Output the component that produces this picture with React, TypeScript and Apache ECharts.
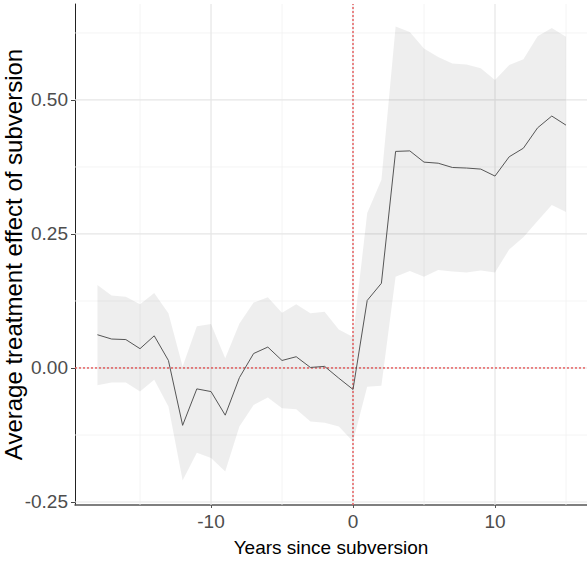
import React, { useEffect, useRef } from 'react';
import * as echarts from 'echarts';

// years since subversion
const years = [
  -18, -17, -16, -15, -14, -13, -12, -11, -10, -9, -8, -7, -6, -5, -4, -3, -2,
  -1, 0, 1, 2, 3, 4, 5, 6, 7, 8, 9, 10, 11, 12, 13, 14, 15,
];
const effect = [
  0.062, 0.054, 0.053, 0.036, 0.06, 0.014, -0.107, -0.039, -0.044, -0.088,
  -0.018, 0.027, 0.039, 0.014, 0.021, 0.001, 0.003, -0.019, -0.04, 0.126,
  0.158, 0.404, 0.405, 0.384, 0.382, 0.374, 0.373, 0.371, 0.358, 0.394, 0.41,
  0.448, 0.47, 0.453,
];
const upper = [
  0.155, 0.135, 0.133, 0.119, 0.14, 0.102, 0.003, 0.078, 0.082, 0.018, 0.083,
  0.122, 0.132, 0.103, 0.119, 0.102, 0.105, 0.072, 0.058, 0.289, 0.351, 0.637,
  0.627, 0.596, 0.58, 0.568, 0.566, 0.559, 0.537, 0.565, 0.576, 0.619, 0.634,
  0.618,
];
const lower = [
  -0.032, -0.027, -0.027, -0.044, -0.022, -0.072, -0.21, -0.158, -0.168,
  -0.193, -0.109, -0.069, -0.055, -0.075, -0.077, -0.1, -0.102, -0.109, -0.137,
  -0.035, -0.033, 0.17, 0.181, 0.17, 0.183, 0.18, 0.178, 0.182, 0.178, 0.221,
  0.244, 0.274, 0.304, 0.291,
];

const xLabels = [-10, 0, 10];
const yLabels = [-0.25, 0, 0.25, 0.5];
const xMajor = [-10, 0, 10];
const xMinor = [-15, -5, 5, 15];
const yMajor = [-0.25, 0, 0.25, 0.5];
const yMinor = [-0.125, 0.125, 0.375, 0.625];

const X_MIN = -19.58;
const X_MAX = 16.48;
const Y_MIN = -0.2556;
const Y_MAX = 0.679;

const font = '"Liberation Sans Narrow", "Liberation Sans", Arial, sans-serif';

const segment = (data: number[][], color: string, width: number, z: number, type: any = 'solid') => ({
  type: 'line' as const,
  data,
  symbol: 'none',
  silent: true,
  z,
  lineStyle: { color, width, type },
});

const App: React.FC = () => {
  const chartRef = useRef<HTMLDivElement>(null);

  useEffect(() => {
    document.body.style.margin = '0';
    let chart: echarts.ECharts | undefined;
    if (chartRef.current) {
      chart = echarts.init(chartRef.current, undefined, { renderer: 'svg' });

      const gridLines = [
        ...yMinor.map((v) => segment([[X_MIN, v], [X_MAX, v]], '#f1f1f1', 0.8, 1)),
        ...xMinor.map((v) => segment([[v, Y_MIN], [v, Y_MAX]], '#f1f1f1', 0.8, 1)),
        ...yMajor.map((v) => segment([[X_MIN, v], [X_MAX, v]], '#e6e6e6', 1.2, 1)),
        ...xMajor.map((v) => segment([[v, Y_MIN], [v, Y_MAX]], '#e6e6e6', 1.2, 1)),
      ];

      chart.setOption({
        animation: false,
        grid: { left: 75, right: 0, top: 4, bottom: 62, outerBoundsMode: 'none' },
        xAxis: {
          type: 'value',
          min: X_MIN,
          max: X_MAX,
          name: 'Years since subversion',
          nameLocation: 'middle',
          nameGap: 33,
          nameMoveOverlap: false,
          nameTextStyle: { fontFamily: font, fontSize: 19, color: '#000' },
          axisLine: { show: true, onZero: false, lineStyle: { color: '#555', width: 1.5 } },
          axisTick: { show: true, length: 3, customValues: xLabels, lineStyle: { color: '#555' } },
          axisLabel: {
            customValues: xLabels,
            margin: 7,
            fontFamily: font,
            fontSize: 19,
            color: '#4d4d4d',
          },
          splitLine: { show: false },
        },
        yAxis: {
          type: 'value',
          min: Y_MIN,
          max: Y_MAX,
          name: 'Average treatment effect of subversion',
          nameLocation: 'middle',
          nameGap: 50,
          nameMoveOverlap: false,
          nameTextStyle: { fontFamily: '"Liberation Sans", Arial, sans-serif', fontSize: 24, color: '#000' },
          axisLine: { show: true, onZero: false, lineStyle: { color: '#222', width: 1 } },
          axisTick: { show: true, length: 4, customValues: yLabels, lineStyle: { color: '#444' } },
          axisLabel: {
            customValues: yLabels,
            margin: 7,
            fontFamily: font,
            fontSize: 19,
            color: '#4d4d4d',
            formatter: (v: number) => v.toFixed(2),
          },
          splitLine: { show: false },
        },
        series: [
          ...gridLines,
          {
            type: 'custom',
            silent: true,
            z: 2,
            data: years.map((y, i) => [y, lower[i], upper[i]]),
            encode: { x: 0, y: [1, 2] },
            renderItem: (params: any, api: any) => {
              if (params.dataIndex !== 0) return null;
              const top = years.map((y, i) => api.coord([y, upper[i]]));
              const bottom = years.map((y, i) => api.coord([y, lower[i]])).reverse();
              return {
                type: 'polygon',
                shape: { points: [...top, ...bottom] },
                style: { fill: 'rgba(0,0,0,0.065)' },
              };
            },
          },
          segment([[X_MIN, 0], [X_MAX, 0]], '#e31a1c', 1, 3, [2, 2]),
          segment([[0, Y_MIN], [0, Y_MAX]], '#e31a1c', 1, 3, [2, 2]),
          {
            type: 'line',
            data: years.map((y, i) => [y, effect[i]]),
            symbol: 'none',
            silent: true,
            z: 4,
            lineStyle: { color: '#555', width: 1 },
          },
        ],
      });
    }
    return () => {
      chart?.dispose();
    };
  }, []);

  return <div ref={chartRef} style={{ width: '587px', height: '567px' }} />;
};

export default App;
